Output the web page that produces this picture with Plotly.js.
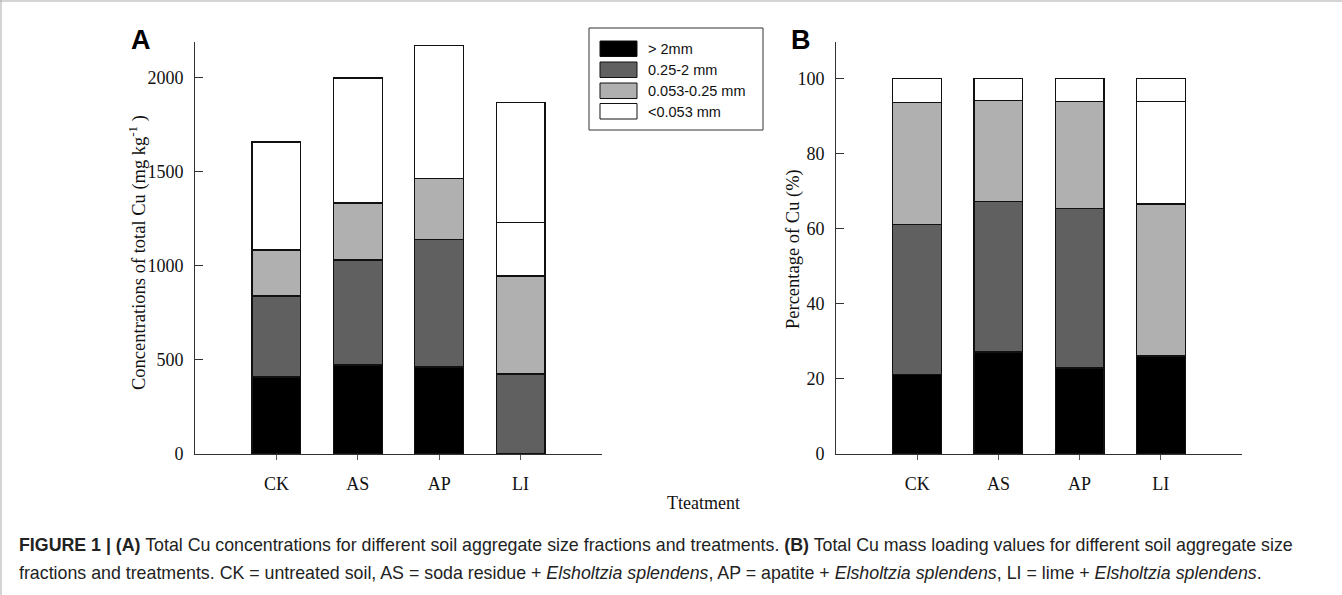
<!DOCTYPE html>
<html>
<head>
<meta charset="utf-8">
<script src="https://cdn.plot.ly/plotly-3.0.1.min.js"></script>
<style>html,body{margin:0;padding:0;background:#fff;}#chart{width:1342px;height:595px;}</style>
</head>
<body>
<div id="chart"></div>
<script>
// ---- Data ----
const categories = ['CK', 'AS', 'AP', 'LI'];
const fractionLabels = ['> 2mm', '0.25-2 mm', '0.053-0.25 mm', '<0.053 mm'];

// Panel A: concentrations of total Cu (mg/kg), per fraction (stacked layers)
const concGt2mm    = [410, 473, 463, 0];
const conc025to2   = [430, 559, 679, 425];
const conc0053to025= [245, 303, 323, 522];
const concLt0053   = [575, 665, 707, 283];
const concExtra    = [0, 0, 0, 639];

// Panel B: percentage of Cu (%), per fraction (stacked layers)
const pctGt2mm     = [21.2, 27.2, 22.9, 26.1];
const pct025to2    = [39.9, 40.1, 42.5, 0];
const pct0053to025 = [32.5, 26.8, 28.4, 40.5];
const pctLt0053    = [6.4, 5.9, 6.2, 27.2];
const pctExtra     = [0, 0, 0, 6.2];

const yTicksA = [0, 500, 1000, 1500, 2000];
const yTicksB = [0, 20, 40, 60, 80, 100];

// ---- Styles ----
const fills = ['#000000', '#606060', '#b0b0b0', '#ffffff', '#ffffff'];
const W = 1342, H = 595;
const px = v => v / W;
const py = v => 1 - v / H;

function barTrace(y, i, xa, ya, name) {
  return {
    type: 'bar', x: categories, y: y, name: name, xaxis: xa, yaxis: ya,
    width: 0.6, showlegend: false, hoverinfo: 'skip',
    marker: { color: fills[i], line: { color: '#111', width: 1.3 } }
  };
}

const layersA = [concGt2mm, conc025to2, conc0053to025, concLt0053, concExtra];
const layersB = [pctGt2mm, pct025to2, pct0053to025, pctLt0053, pctExtra];
const data = [];
layersA.forEach((l, i) => data.push(barTrace(l, i, 'x', 'y', fractionLabels[i] || 'extra')));
layersB.forEach((l, i) => data.push(barTrace(l, i, 'x2', 'y2', fractionLabels[i] || 'extra')));

const serif = 'Liberation Serif, Times New Roman, serif';
const sans = 'Liberation Sans, Arial, Helvetica, sans-serif';

const xBase = {
  type: 'category', range: [-1, 4], showline: true, linecolor: '#333', linewidth: 1,
  ticks: 'outside', ticklen: 5, tickcolor: '#555', showgrid: false, zeroline: false,
  tickfont: { family: serif, size: 18, color: '#111' }, ticklabelstandoff: 8, fixedrange: true
};
const yBase = {
  showline: true, linecolor: '#333', linewidth: 1, ticks: 'inside', ticklen: 8, tickcolor: '#333',
  showgrid: false, zeroline: false, tickfont: { family: serif, size: 18, color: '#111' },
  ticklabelstandoff: 7, fixedrange: true
};

const yTop = py(42), yBot = py(454);

const shapes = [];
const annotations = [];

// Legend (drawn manually as a boxed key)
shapes.push({ type: 'rect', xref: 'paper', yref: 'paper', x0: px(589), x1: px(763), y0: py(28), y1: py(130),
  line: { color: '#333', width: 1 }, fillcolor: 'rgba(0,0,0,0)' });
const rowTops = [41, 62, 83, 103.5];
fractionLabels.forEach((lab, i) => {
  shapes.push({ type: 'rect', xref: 'paper', yref: 'paper', x0: px(600), x1: px(637),
    y0: py(rowTops[i]), y1: py(rowTops[i] + 15.5), line: { color: '#111', width: 1 }, fillcolor: fills[i] });
  annotations.push({ xref: 'paper', yref: 'paper', x: px(646), y: py(rowTops[i] + 8), xanchor: 'left', yanchor: 'middle',
    text: lab.replace('<', '&lt;'), showarrow: false, font: { family: sans, size: 14.5, color: '#111' } });
});

// Frame lines at left and top
shapes.push({ type: 'line', xref: 'paper', yref: 'paper', x0: px(1), x1: px(1), y0: 0, y1: 1, line: { color: '#aaa', width: 1 } });
shapes.push({ type: 'line', xref: 'paper', yref: 'paper', x0: 0, x1: 1, y0: py(1), y1: py(1), line: { color: '#aaa', width: 1 } });

// Panel letters
annotations.push({ xref: 'paper', yref: 'paper', x: px(141), y: py(40), text: '<b>A</b>', showarrow: false,
  font: { family: sans, size: 27, color: '#000' }, xanchor: 'center', yanchor: 'middle' });
annotations.push({ xref: 'paper', yref: 'paper', x: px(801), y: py(40), text: '<b>B</b>', showarrow: false,
  font: { family: sans, size: 27, color: '#000' }, xanchor: 'center', yanchor: 'middle' });

// Axis titles
annotations.push({ xref: 'paper', yref: 'paper', x: px(137), y: py(253), textangle: -90, showarrow: false,
  text: 'Concentrations of total Cu (mg kg<sup>-1</sup> )', font: { family: serif, size: 18.5, color: '#111' },
  xanchor: 'center', yanchor: 'middle' });
annotations.push({ xref: 'paper', yref: 'paper', x: px(793), y: py(249), textangle: -90, showarrow: false,
  text: 'Percentage of Cu (%)', font: { family: serif, size: 18.5, color: '#111' }, xanchor: 'center', yanchor: 'middle' });
annotations.push({ xref: 'paper', yref: 'paper', x: px(703), y: py(503), showarrow: false,
  text: 'Tteatment', font: { family: serif, size: 18, color: '#111' }, xanchor: 'center', yanchor: 'middle' });

// Caption
const capFont = { family: 'Liberation Sans, Arial, sans-serif', size: 17.8, color: '#222' };
annotations.push({ xref: 'paper', yref: 'paper', x: px(17), y: py(545), xanchor: 'left', yanchor: 'middle', showarrow: false, font: capFont,
  text: '<b>FIGURE 1 | (A)</b> Total Cu concentrations for different soil aggregate size fractions and treatments. <b>(B)</b> Total Cu mass loading values for different soil aggregate size' });
annotations.push({ xref: 'paper', yref: 'paper', x: px(17), y: py(573), xanchor: 'left', yanchor: 'middle', showarrow: false, font: capFont,
  text: 'fractions and treatments. CK = untreated soil, AS = soda residue + <i>Elsholtzia splendens</i>, AP = apatite + <i>Elsholtzia splendens</i>, LI = lime + <i>Elsholtzia splendens</i>.' });

const layout = {
  width: W, height: H, margin: { l: 0, r: 0, t: 0, b: 0 },
  paper_bgcolor: '#fff', plot_bgcolor: '#fff', barmode: 'stack', showlegend: false,
  xaxis: Object.assign({}, xBase, { domain: [px(195), px(602)], anchor: 'y' }),
  yaxis: Object.assign({}, yBase, { domain: [yBot, yTop], range: [0, 2191], tickvals: yTicksA, anchor: 'x' }),
  xaxis2: Object.assign({}, xBase, { domain: [px(836), px(1242)], anchor: 'y2' }),
  yaxis2: Object.assign({}, yBase, { domain: [yBot, yTop], range: [0, 109.7], tickvals: yTicksB, anchor: 'x2' }),
  shapes: shapes, annotations: annotations
};

Plotly.newPlot('chart', data, layout, { displayModeBar: false, staticPlot: true });
</script>
</body>
</html>
